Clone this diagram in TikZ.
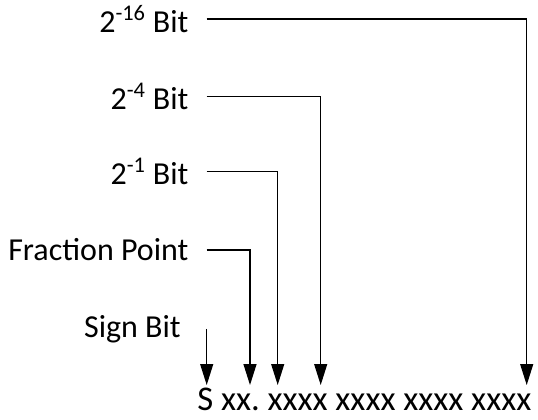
\documentclass[tikz,border=0pt]{standalone}
\usepackage{fontspec}
\setmainfont{Carlito}
\usetikzlibrary{arrows.meta}

\tikzset{
  lbl/.style={anchor=mid east, inner xsep=13.5pt, inner ysep=0pt,
    font=\fontsize{24}{28}\selectfont},
  wire/.style={black, line width=0.9pt},
  pointer/.style={wire, -{Triangle[length=15.75pt, width=9.75pt]}}
}

\begin{document}
\frenchspacing
\begin{tikzpicture}[x=0.75pt, y=-0.75pt]
    \useasboundingbox (0, 0) rectangle (538, 420);

    % bit pattern
    \node[anchor=base west, inner sep=0pt, font=\fontsize{26}{31}\selectfont]
      (word) at (197, 410) {S xx. xxxx xxxx xxxx xxxx};
    \coordinate (tS)  at (206.7, 385);
    \coordinate (tFP) at (250, 385);
    \coordinate (t1)  at (277.7, 385);
    \coordinate (t4)  at (320.7, 385);
    \coordinate (t16) at (526.7, 385);

    % 2^-16
    \node[lbl] (b16) at (206.7, 29.3) {2\textsuperscript{-16} Bit};
    \draw[pointer] (b16.east) -| (t16);

    % 2^-4
    \node[lbl] (b4) at (206.7, 106.7) {2\textsuperscript{-4} Bit};
    \draw[pointer] (b4.east) -| (t4);

    % 2^-1
    \node[lbl] (b1) at (206.7, 181.7) {2\textsuperscript{-1} Bit};
    \draw[pointer] (b1.east) -| (t1);

    % fraction point
    \node[lbl] (fp) at (206.7, 257.7) {Fraction Point};
    \draw[pointer] (fp.east) -| (tFP);

    % sign
    \node[lbl] (sign) at (199, 334) {Sign Bit};
    \draw[pointer] (sign.east -| tS) -- (tS);

\end{tikzpicture}
\end{document}
